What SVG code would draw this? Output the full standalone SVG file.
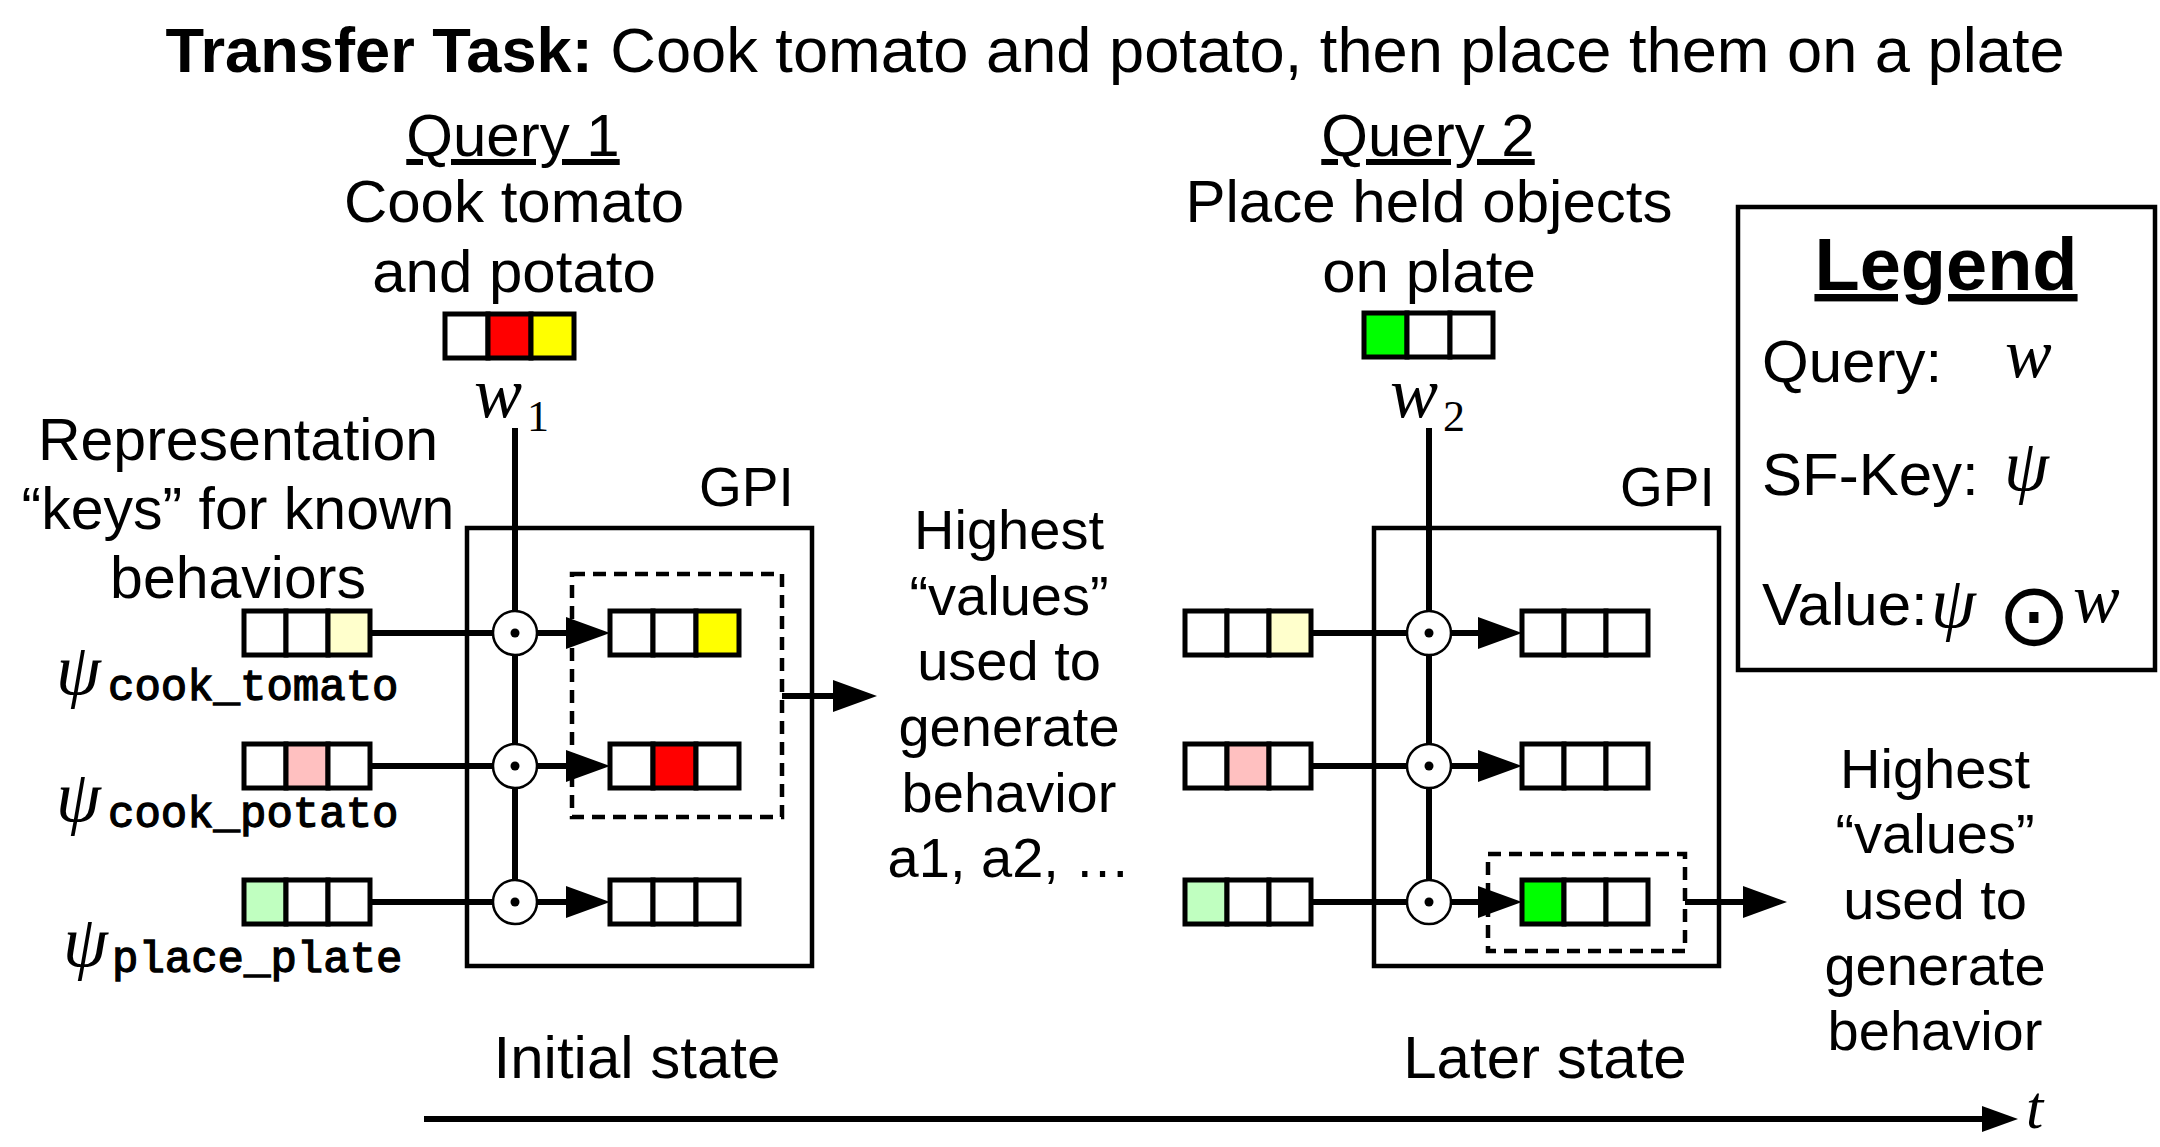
<svg xmlns="http://www.w3.org/2000/svg" width="2160" height="1147" viewBox="0 0 2160 1147">
<style>
.t{font-family:"Liberation Sans",Arial,Helvetica,sans-serif;font-size:60px;fill:#000}
.c{text-anchor:middle}
.b{font-weight:bold}
.s{font-size:56px}
.m{font-family:"Liberation Serif","Times New Roman",serif;font-style:italic;fill:#000}
.sub{font-family:"Liberation Serif","Times New Roman",serif;font-size:44px;fill:#000}
.tt{font-family:"Liberation Mono","Courier New",monospace;font-size:44px;fill:#000;stroke:#000;stroke-width:1.3}
.cell{stroke:#000;stroke-width:5;fill:#fff}
.ln{stroke:#000;stroke-width:6;fill:none}
.gpi{fill:none;stroke:#000;stroke-width:4.5}
.dash{fill:none;stroke:#000;stroke-width:4.5;stroke-dasharray:13 8}
.op{fill:#fff;stroke:#000;stroke-width:2.5}
</style>
<defs>
<marker id="ah" markerUnits="userSpaceOnUse" markerWidth="44" markerHeight="32" viewBox="0 0 44 32" refX="1" refY="16" orient="auto"><path d="M0,0 L44,16 L0,32 Z" fill="#000"/></marker>
<marker id="ah2" markerUnits="userSpaceOnUse" markerWidth="36" markerHeight="26" viewBox="0 0 36 26" refX="1" refY="13" orient="auto"><path d="M0,0 L36,13 L0,26 Z" fill="#000"/></marker>
</defs>
<rect width="2160" height="1147" fill="#fff"/>

<g id="title"><text class="t" x="1115" y="72" text-anchor="middle" style="font-size:63.2px"><tspan class="b">Transfer Task:</tspan> Cook tomato and potato, then place them on a plate</text></g>

<g id="query1-label">
<text class="t c" x="513" y="156" text-decoration="underline">Query 1</text>
<text class="t c" x="514" y="222">Cook tomato</text>
<text class="t c" x="514" y="292">and potato</text>
</g>
<g id="query2-label">
<text class="t c" x="1428" y="156" text-decoration="underline">Query 2</text>
<text class="t c" x="1429" y="222">Place held objects</text>
<text class="t c" x="1429" y="292">on plate</text>
</g>

<g id="w1">
<rect class="cell" x="445" y="314" width="43" height="44"/>
<rect class="cell" x="488" y="314" width="43" height="44" style="fill:#ff0000"/>
<rect class="cell" x="531" y="314" width="43" height="44" style="fill:#ffff00"/>
<text class="m" x="474" y="417" font-size="72">w</text><text class="sub" x="527" y="431">1</text>
</g>
<g id="w2">
<rect class="cell" x="1364" y="313" width="43" height="44" style="fill:#00ff00"/>
<rect class="cell" x="1407" y="313" width="43" height="44"/>
<rect class="cell" x="1450" y="313" width="43" height="44"/>
<text class="m" x="1390" y="417" font-size="72">w</text><text class="sub" x="1443" y="431">2</text>
</g>

<g id="keys-label">
<text class="t c" x="238" y="460" style="font-size:59px">Representation</text>
<text class="t c" x="238" y="529" style="font-size:59px">“keys” for known</text>
<text class="t c" x="238" y="598" style="font-size:59px">behaviors</text>
</g>

<g id="gpi1"><rect class="gpi" x="467" y="528" width="345" height="438"/><text class="t" x="699" y="506" style="font-size:55px">GPI</text></g>
<g id="gpi2"><rect class="gpi" x="1374" y="528" width="345" height="438"/><text class="t" x="1620" y="506" style="font-size:55px">GPI</text></g>

<g id="connectors">
<line class="ln" x1="515" y1="428" x2="515" y2="880"/>
<line class="ln" x1="1429" y1="428" x2="1429" y2="880"/>
<line class="ln" x1="370" y1="633" x2="493" y2="633"/>
<line class="ln" x1="370" y1="766" x2="493" y2="766"/>
<line class="ln" x1="370" y1="902" x2="493" y2="902"/>
<line class="ln" x1="537" y1="633" x2="567" y2="633" marker-end="url(#ah)"/>
<line class="ln" x1="537" y1="766" x2="567" y2="766" marker-end="url(#ah)"/>
<line class="ln" x1="537" y1="902" x2="567" y2="902" marker-end="url(#ah)"/>
<line class="ln" x1="1311" y1="633" x2="1407" y2="633"/>
<line class="ln" x1="1311" y1="766" x2="1407" y2="766"/>
<line class="ln" x1="1311" y1="902" x2="1407" y2="902"/>
<line class="ln" x1="1451" y1="633" x2="1479" y2="633" marker-end="url(#ah)"/>
<line class="ln" x1="1451" y1="766" x2="1479" y2="766" marker-end="url(#ah)"/>
<line class="ln" x1="1451" y1="902" x2="1479" y2="902" marker-end="url(#ah)"/>
<line class="ln" x1="782" y1="696" x2="834" y2="696" marker-end="url(#ah)"/>
<line class="ln" x1="1685" y1="902" x2="1744" y2="902" marker-end="url(#ah)"/>
<line class="ln" x1="424" y1="1119" x2="1983" y2="1119" marker-end="url(#ah2)"/>
</g>

<g id="keys1-tomato">
<rect class="cell" x="244" y="611" width="42" height="44"/><rect class="cell" x="286" y="611" width="42" height="44"/><rect class="cell" x="328" y="611" width="42" height="44" style="fill:#ffffcc"/>
<text class="m" x="56" y="694" font-size="72">ψ</text><text class="tt" x="108" y="700">cook_tomato</text>
</g>
<g id="keys1-potato">
<rect class="cell" x="244" y="744" width="42" height="44"/><rect class="cell" x="286" y="744" width="42" height="44" style="fill:#ffc0c0"/><rect class="cell" x="328" y="744" width="42" height="44"/>
<text class="m" x="56" y="821" font-size="72">ψ</text><text class="tt" x="108" y="827">cook_potato</text>
</g>
<g id="keys1-plate">
<rect class="cell" x="244" y="880" width="42" height="44" style="fill:#c0ffc0"/><rect class="cell" x="286" y="880" width="42" height="44"/><rect class="cell" x="328" y="880" width="42" height="44"/>
<text class="m" x="63" y="966" font-size="72">ψ</text><text class="tt" x="112" y="972">place_plate</text>
</g>
<g id="keys2">
<rect class="cell" x="1185" y="611" width="42" height="44"/><rect class="cell" x="1227" y="611" width="42" height="44"/><rect class="cell" x="1269" y="611" width="42" height="44" style="fill:#ffffcc"/>
<rect class="cell" x="1185" y="744" width="42" height="44"/><rect class="cell" x="1227" y="744" width="42" height="44" style="fill:#ffc0c0"/><rect class="cell" x="1269" y="744" width="42" height="44"/>
<rect class="cell" x="1185" y="880" width="42" height="44" style="fill:#c0ffc0"/><rect class="cell" x="1227" y="880" width="42" height="44"/><rect class="cell" x="1269" y="880" width="42" height="44"/>
</g>

<g id="ops1">
<circle class="op" cx="515" cy="633" r="22"/><circle cx="515" cy="633" r="4.5"/>
<circle class="op" cx="515" cy="766" r="22"/><circle cx="515" cy="766" r="4.5"/>
<circle class="op" cx="515" cy="902" r="22"/><circle cx="515" cy="902" r="4.5"/>
</g>
<g id="ops2">
<circle class="op" cx="1429" cy="633" r="22"/><circle cx="1429" cy="633" r="4.5"/>
<circle class="op" cx="1429" cy="766" r="22"/><circle cx="1429" cy="766" r="4.5"/>
<circle class="op" cx="1429" cy="902" r="22"/><circle cx="1429" cy="902" r="4.5"/>
</g>

<g id="values1">
<rect class="cell" x="610" y="611" width="43" height="44"/><rect class="cell" x="653" y="611" width="43" height="44"/><rect class="cell" x="696" y="611" width="43" height="44" style="fill:#ffff00"/>
<rect class="cell" x="610" y="744" width="43" height="44"/><rect class="cell" x="653" y="744" width="43" height="44" style="fill:#ff0000"/><rect class="cell" x="696" y="744" width="43" height="44"/>
<rect class="cell" x="610" y="880" width="43" height="44"/><rect class="cell" x="653" y="880" width="43" height="44"/><rect class="cell" x="696" y="880" width="43" height="44"/>
<rect class="dash" x="572" y="574" width="210" height="243"/>
</g>
<g id="values2">
<rect class="cell" x="1522" y="611" width="42" height="44"/><rect class="cell" x="1564" y="611" width="42" height="44"/><rect class="cell" x="1606" y="611" width="42" height="44"/>
<rect class="cell" x="1522" y="744" width="42" height="44"/><rect class="cell" x="1564" y="744" width="42" height="44"/><rect class="cell" x="1606" y="744" width="42" height="44"/>
<rect class="cell" x="1522" y="880" width="42" height="44" style="fill:#00ff00"/><rect class="cell" x="1564" y="880" width="42" height="44"/><rect class="cell" x="1606" y="880" width="42" height="44"/>
<rect class="dash" x="1488" y="854" width="197" height="97"/>
</g>

<g id="highest1">
<text class="t c s" x="1009" y="549">Highest</text>
<text class="t c s" x="1009" y="615">“values”</text>
<text class="t c s" x="1009" y="680">used to</text>
<text class="t c s" x="1009" y="746">generate</text>
<text class="t c s" x="1009" y="812">behavior</text>
<text class="t c s" x="1009" y="877">a1, a2, …</text>
</g>
<g id="highest2">
<text class="t c s" x="1935" y="788">Highest</text>
<text class="t c s" x="1935" y="853">“values”</text>
<text class="t c s" x="1935" y="919">used to</text>
<text class="t c s" x="1935" y="985">generate</text>
<text class="t c s" x="1935" y="1050">behavior</text>
</g>

<g id="legend">
<rect class="gpi" x="1738" y="207" width="417" height="463"/>
<text class="t c b" x="1946" y="290" style="font-size:74px" text-decoration="underline">Legend</text>
<text class="t" x="1762" y="382">Query:</text><text class="m" x="2005" y="377" font-size="70">w</text>
<text class="t" x="1762" y="495">SF-Key:</text><text class="m" x="2004" y="490" font-size="72">ψ</text>
<text class="t" x="1762" y="625">Value:</text><text class="m" x="1931" y="627" font-size="72">ψ</text>
<text x="2034" y="645" text-anchor="middle" font-family="DejaVu Sans,sans-serif" font-size="88">⊙</text>
<text class="m" x="2073" y="622" font-size="70">w</text>
</g>

<g id="states">
<text class="t c" x="637" y="1078">Initial state</text>
<text class="t c" x="1545" y="1078">Later state</text>
<text class="m" x="2026" y="1128" font-size="62">t</text>
</g>
</svg>
